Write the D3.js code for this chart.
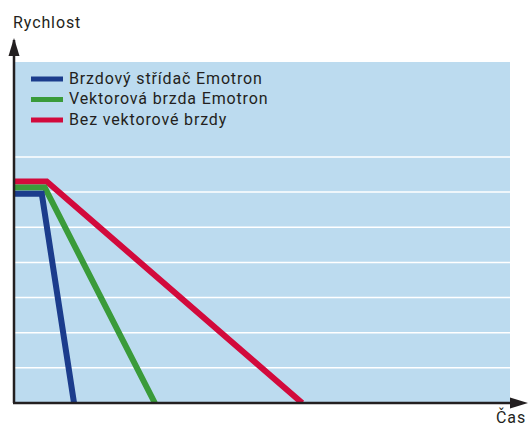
<!DOCTYPE html>
<html>
<head>
<meta charset="utf-8">
<script src="https://cdn.jsdelivr.net/npm/d3@7"></script>
<style>
  body { margin: 0; background: #fff; }
  svg { display: block; font-family: Roboto, "Noto Sans", sans-serif; }
</style>
</head>
<body>
<div id="chart"></div>
<script>
// series: time / speed points
const seriesNames = ["Brzdový střídač Emotron", "Vektorová brzda Emotron", "Bez vektorové brzdy"];
const seriesColors = ["#1b3c8c", "#3a9b3a", "#d20a3c"];
const blueTime = [0, 5.6, 12.1];
const blueSpeed = [5.95, 5.95, 0];
const greenTime = [0, 6.2, 28.4];
const greenSpeed = [6.13, 6.13, 0];
const redTime = [0, 6.6, 58.1];
const redSpeed = [6.3, 6.3, 0];
const gridLevels = [1, 2, 3, 4, 5, 6, 7];

const W = 528, H = 426;
const mLeft = 14, mRight = 510, mTop = 62, mBottom = 403;

const svg = d3.select("#chart").append("svg")
    .attr("width", W)
    .attr("height", H);

const x = d3.scaleLinear().domain([0, 100]).range([mLeft, mRight]);
const y = d3.scaleLinear().domain([0, 9.7]).range([mBottom, mTop]);

// plot background
svg.append("rect")
    .attr("x", mLeft)
    .attr("y", mTop)
    .attr("width", mRight - mLeft)
    .attr("height", mBottom - mTop)
    .attr("fill", "#bcdbef");

// horizontal grid
svg.selectAll("line.grid")
    .data(gridLevels)
    .enter()
    .append("line")
        .attr("class", "grid")
        .attr("x1", mLeft)
        .attr("x2", mRight)
        .attr("y1", d => y(d))
        .attr("y2", d => y(d))
        .attr("stroke", "#ffffff")
        .attr("stroke-width", 1.5);

// data lines
const series = [
    {t: blueTime, v: blueSpeed},
    {t: greenTime, v: greenSpeed},
    {t: redTime, v: redSpeed}
];
const lineFunc = d3.line()
    .x(d => x(d[0]))
    .y(d => y(d[1]));

svg.append("clipPath").attr("id", "plotClip")
    .append("rect")
        .attr("x", mLeft)
        .attr("y", mTop)
        .attr("width", mRight - mLeft)
        .attr("height", mBottom - mTop);

// draw red first so blue sits on top like the original
svg.append("g").attr("clip-path", "url(#plotClip)")
    .selectAll("path")
    .data(series.map((s, i) => ({pts: d3.zip(s.t, s.v), i})).reverse())
    .enter()
    .append("path")
        .attr("d", d => lineFunc(d.pts))
        .attr("fill", "none")
        .attr("stroke", d => seriesColors[d.i])
        .attr("stroke-width", 6)
        .attr("stroke-linejoin", "miter");

// axes with arrows
svg.append("path")
    .attr("d", d3.line()([[mLeft, mBottom], [mLeft, 40]]))
    .attr("stroke", "#231f20")
    .attr("stroke-width", 2.5);
svg.append("path")
    .attr("d", "M" + (mLeft - 5.5) + ",56 L" + mLeft + ",38 L" + (mLeft + 5.5) + ",56 Z")
    .attr("fill", "#231f20");

svg.append("path")
    .attr("d", d3.line()([[mLeft - 1, mBottom], [510, mBottom]]))
    .attr("stroke", "#231f20")
    .attr("stroke-width", 2.5);
svg.append("path")
    .attr("d", "M510," + (mBottom - 5.5) + " L528," + mBottom + " L510," + (mBottom + 5.5) + " Z")
    .attr("fill", "#231f20");

// axis titles
svg.append("text")
    .text("Rychlost")
    .attr("x", 13)
    .attr("y", 28)
    .attr("font-size", "16px")
    .attr("letter-spacing", "0.9px")
    .attr("fill", "#231f20");
svg.append("text")
    .text("Čas")
    .attr("x", 496)
    .attr("y", 423)
    .attr("font-size", "16px")
    .attr("letter-spacing", "0.9px")
    .attr("fill", "#231f20");

// legend
const legend = svg.selectAll("g.legend")
    .data(seriesNames)
    .enter()
    .append("g")
        .attr("class", "legend")
        .attr("transform", (d, i) => "translate(31," + (79 + i * 20.5) + ")");
legend.append("line")
    .attr("x1", 0)
    .attr("x2", 32)
    .attr("stroke", (d, i) => seriesColors[i])
    .attr("stroke-width", 5);
legend.append("text")
    .text(d => d)
    .attr("x", 38)
    .attr("y", 4.5)
    .attr("font-size", "16px")
    .attr("letter-spacing", "0.85px")
    .attr("fill", "#231f20");
</script>
</body>
</html>
